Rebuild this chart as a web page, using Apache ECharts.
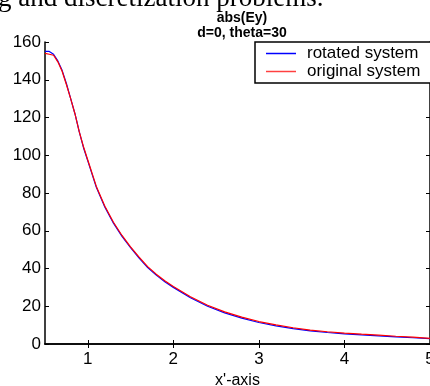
<!DOCTYPE html>
<html>
<head>
<meta charset="utf-8">
<script src="https://cdn.jsdelivr.net/npm/echarts@6/dist/echarts.min.js"></script>
<style>
  html, body { margin: 0; padding: 0; background: #fff; }
  #chart { width: 430px; height: 386px; }
</style>
</head>
<body>
<div id="chart"></div>
<script>
// x' positions sampled along the curve
var xPos = [0.5, 0.55, 0.6, 0.65, 0.7, 0.75, 0.8, 0.85, 0.9, 0.95, 1.0,
  1.1, 1.2, 1.3, 1.4, 1.5, 1.6, 1.7, 1.8, 1.9, 2.0,
  2.2, 2.4, 2.6, 2.8, 3.0, 3.2, 3.4, 3.6, 3.8, 4.0,
  4.2, 4.4, 4.6, 4.8, 5.0];
// abs(Ey), rotated system (blue)
var rotated = [155, 155, 153.5, 150, 145, 138, 130, 122, 112.5, 104, 97,
  83, 72.5, 64, 57, 51, 45.5, 40.5, 36.5, 33, 30,
  24.5, 20, 16.5, 13.7, 11.4, 9.6, 8.1, 7.0, 6.1, 5.4,
  4.8, 4.3, 3.8, 3.3, 2.8];
// abs(Ey), original system (red)
var original = [154, 153.5, 153, 149.5, 144.5, 137.5, 130, 122, 112.5, 104.5, 97.5,
  83.5, 73, 64.5, 57.5, 51.5, 46, 41, 37, 33.5, 30.5,
  25, 20.5, 17, 14.2, 11.9, 10.1, 8.6, 7.4, 6.5, 5.8,
  5.2, 4.7, 4.1, 3.6, 3.0];
var xTicks = [1, 2, 3, 4, 5];
var seriesNames = ['rotated system', 'original system'];

var chart = echarts.init(document.getElementById('chart'));

function pairs(ys) {
  return xPos.map(function (x, i) { return [x, ys[i]]; });
}

var font = 'Liberation Sans, Arial, sans-serif';
var axisLine = { show: true, lineStyle: { color: '#000', width: 1.5 } };

var option = {
  animation: false,
  backgroundColor: '#fff',
  title: {
    text: 'abs(Ey)\nd=0, theta=30',
    left: 237,
    top: 6,
    textAlign: 'center',
    textStyle: { fontFamily: font, fontSize: 14, fontWeight: 'bold', color: '#000', lineHeight: 15 }
  },
  graphic: [{
    type: 'text',
    left: -2,
    top: -15,
    style: {
      text: 'g and discretization problems.',
      font: '27px "Liberation Serif", "Times New Roman", serif',
      fill: '#000'
    }
  }],
  legend: {
    orient: 'vertical',
    left: 255,
    top: 42,
    padding: [3, 40, 3, 11],
    itemGap: 1,
    itemWidth: 30,
    itemHeight: 1.5,
    icon: 'rect',
    backgroundColor: '#fff',
    borderColor: '#000',
    borderWidth: 1.5,
    textStyle: { fontFamily: font, fontSize: 17, color: '#000', padding: [0, 0, 0, 6] },
    data: seriesNames
  },
  grid: { left: 45, right: 0, top: 42, bottom: 42, containLabel: false, outerBoundsMode: 'none' },
  xAxis: [{
    type: 'value',
    min: 0.5,
    max: 5,
    name: "x'-axis",
    nameLocation: 'middle',
    nameGap: 26,
    nameTextStyle: { fontFamily: font, fontSize: 16, color: '#000' },
    axisLine: axisLine,
    axisTick: { inside: true, length: 4, customValues: xTicks, lineStyle: { color: '#000' } },
    axisLabel: { customValues: xTicks, margin: 7, fontFamily: font, fontSize: 17, color: '#000' },
    splitLine: { show: false }
  }, {
    type: 'value',
    position: 'top',
    min: 0.5,
    max: 5,
    axisLine: axisLine,
    axisTick: { inside: true, length: 4, customValues: xTicks, lineStyle: { color: '#000' } },
    axisLabel: { show: false },
    splitLine: { show: false }
  }],
  yAxis: [{
    type: 'value',
    min: 0,
    max: 160,
    interval: 20,
    axisLine: axisLine,
    axisTick: { inside: true, length: 4, lineStyle: { color: '#000' } },
    axisLabel: { margin: 4, fontFamily: font, fontSize: 17, color: '#000' },
    splitLine: { show: false }
  }, {
    type: 'value',
    position: 'right',
    min: 0,
    max: 160,
    interval: 20,
    axisLine: axisLine,
    axisTick: { inside: true, length: 4, lineStyle: { color: '#000' } },
    axisLabel: { show: false },
    splitLine: { show: false }
  }],
  series: [{
    name: seriesNames[0],
    type: 'line',
    data: pairs(rotated),
    showSymbol: false,
    lineStyle: { color: '#0000ff', width: 1.2 },
    itemStyle: { color: '#0000ff' },
    z: 2
  }, {
    name: seriesNames[1],
    type: 'line',
    data: pairs(original),
    showSymbol: false,
    lineStyle: { color: '#ff0000', width: 1.2 },
    itemStyle: { color: '#ff4040' },
    z: 3
  }]
};

chart.setOption(option);
</script>
</body>
</html>
